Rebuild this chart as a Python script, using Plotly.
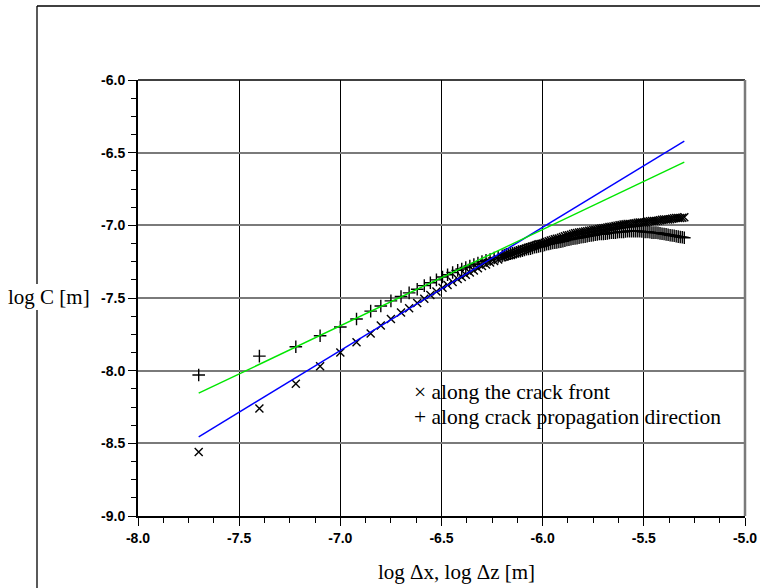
import plotly.graph_objects as go

# ---------------- data ----------------
log_dx = [-7.70, -7.40, -7.22, -7.10, -7.00, -6.92, -6.85, -6.80, -6.75, -6.70,
          -6.66, -6.62, -6.585, -6.555, -6.525, -6.495, -6.47, -6.445, -6.42, -6.40,
          -6.38, -6.36, -6.34, -6.32, -6.30, -6.28, -6.26, -6.24, -6.22,
          -6.20, -6.19, -6.18, -6.17, -6.16, -6.15, -6.14, -6.13, -6.12, -6.11,
          -6.10, -6.09, -6.08, -6.07, -6.06, -6.05, -6.04, -6.03, -6.02, -6.01,
          -6.00, -5.99, -5.98, -5.97, -5.96, -5.95, -5.94, -5.93, -5.92, -5.91,
          -5.90, -5.89, -5.88, -5.87, -5.86, -5.85, -5.84, -5.83, -5.82, -5.81,
          -5.80, -5.79, -5.78, -5.77, -5.76, -5.75, -5.74, -5.73, -5.72, -5.71,
          -5.70, -5.69, -5.68, -5.67, -5.66, -5.65, -5.64, -5.63, -5.62, -5.61,
          -5.60, -5.59, -5.58, -5.57, -5.56, -5.55, -5.54, -5.53, -5.52, -5.51,
          -5.50, -5.49, -5.48, -5.47, -5.46, -5.45, -5.44, -5.43, -5.42, -5.41,
          -5.40, -5.39, -5.38, -5.37, -5.36, -5.35, -5.34, -5.33, -5.32, -5.31,
          -5.30]

logC_front = [-8.56, -8.26, -8.09, -7.97, -7.875, -7.805, -7.745, -7.69, -7.645, -7.60,
              -7.57, -7.535, -7.505, -7.48, -7.455, -7.43, -7.41, -7.39, -7.37, -7.355,
              -7.34, -7.325, -7.31, -7.295, -7.28, -7.27, -7.255, -7.245, -7.235,
              -7.220, -7.215, -7.210, -7.205, -7.200, -7.195, -7.190, -7.185, -7.180, -7.175,
              -7.170, -7.165, -7.160, -7.155, -7.150, -7.145, -7.140, -7.135, -7.130, -7.128,
              -7.125, -7.120, -7.115, -7.110, -7.105, -7.100, -7.095, -7.092, -7.090, -7.085,
              -7.080, -7.075, -7.070, -7.068, -7.065, -7.060, -7.055, -7.052, -7.050, -7.048,
              -7.045, -7.042, -7.040, -7.038, -7.035, -7.032, -7.030, -7.028, -7.025, -7.022,
              -7.020, -7.018, -7.015, -7.012, -7.010, -7.008, -7.005, -7.002, -7.000, -6.998,
              -6.995, -6.992, -6.990, -6.990, -6.990, -6.988, -6.985, -6.982, -6.980, -6.980,
              -6.980, -6.978, -6.975, -6.972, -6.970, -6.970, -6.970, -6.968, -6.965, -6.962,
              -6.960, -6.960, -6.960, -6.958, -6.955, -6.952, -6.950, -6.950, -6.950, -6.948,
              -6.945]

logC_prop = [-8.03, -7.90, -7.835, -7.76, -7.70, -7.645, -7.59, -7.555, -7.52, -7.49,
             -7.465, -7.44, -7.415, -7.395, -7.375, -7.355, -7.34, -7.325, -7.31, -7.30,
             -7.29, -7.28, -7.27, -7.26, -7.25, -7.24, -7.235, -7.225, -7.22,
             -7.210, -7.205, -7.200, -7.198, -7.195, -7.192, -7.190, -7.185, -7.180, -7.178,
             -7.175, -7.170, -7.165, -7.162, -7.160, -7.155, -7.150, -7.148, -7.145, -7.142,
             -7.140, -7.135, -7.130, -7.128, -7.125, -7.122, -7.120, -7.118, -7.115, -7.112,
             -7.110, -7.105, -7.100, -7.098, -7.095, -7.092, -7.090, -7.088, -7.085, -7.082,
             -7.080, -7.078, -7.075, -7.072, -7.070, -7.068, -7.065, -7.062, -7.060, -7.060,
             -7.060, -7.058, -7.055, -7.052, -7.050, -7.050, -7.050, -7.048, -7.045, -7.045,
             -7.045, -7.042, -7.040, -7.040, -7.040, -7.040, -7.040, -7.040, -7.040, -7.042,
             -7.045, -7.045, -7.045, -7.048, -7.050, -7.050, -7.050, -7.052, -7.055, -7.058,
             -7.060, -7.062, -7.065, -7.068, -7.070, -7.072, -7.075, -7.078, -7.080, -7.082,
             -7.085]

fit_x = [-7.70, -5.30]
fit_front = [-8.455, -6.42]
fit_prop = [-8.155, -6.565]

x_tick_vals = [-8.0, -7.5, -7.0, -6.5, -6.0, -5.5, -5.0]
x_tick_text = ["-8.0", "-7.5", "-7.0", "-6.5", "-6.0", "-5.5", "-5.0"]
y_tick_vals = [-6.0, -6.5, -7.0, -7.5, -8.0, -8.5, -9.0]
y_tick_text = ["-6.0", "-6.5", "-7.0", "-7.5", "-8.0", "-8.5", "-9.0"]

legend_front = "× along the crack front"
legend_prop = "+ along crack propagation direction"
x_title = "log Δx, log Δz [m]"
y_title = "log C [m]"

# ---------------- layout geometry (pixels) ----------------
W, H = 760, 588
L, R, T, B = 138, 745, 80, 516


def px(x):
    return (x - L) / (R - L)


def py(y):
    return (B - y) / (B - T)


serif = "Liberation Serif, Times New Roman, serif"
sans = "Liberation Sans, Arial, sans-serif"

fig = go.Figure()
fig.add_trace(go.Scatter(x=log_dx, y=logC_front, mode="markers",
                         marker=dict(symbol="x-thin", size=8, color="black",
                                     line=dict(color="black", width=1.4)),
                         showlegend=False))
fig.add_trace(go.Scatter(x=log_dx, y=logC_prop, mode="markers",
                         marker=dict(symbol="cross-thin", size=9, color="black",
                                     line=dict(color="black", width=1.4)),
                         showlegend=False))
fig.add_trace(go.Scatter(x=fit_x, y=fit_front, mode="lines",
                         line=dict(color="#0000ff", width=1.4), showlegend=False))
fig.add_trace(go.Scatter(x=fit_x, y=fit_prop, mode="lines",
                         line=dict(color="#00e600", width=1.4), showlegend=False))

tickfont = dict(family=sans, size=14, color="black", weight="bold")

fig.update_xaxes(range=[-8, -5], tickvals=x_tick_vals, ticktext=x_tick_text,
                 automargin=False,
                 showline=True, linecolor="black", linewidth=2,
                 ticks="outside", ticklen=8, tickwidth=1, tickcolor="black",
                 zeroline=False, tickfont=tickfont,
                 minor=dict(dtick=0.125, tick0=-8, ticks="outside", ticklen=5,
                            tickwidth=1, tickcolor="black", showgrid=False),
                 showgrid=True, gridcolor="black", gridwidth=1)
fig.update_yaxes(range=[-9, -6], tickvals=y_tick_vals, ticktext=y_tick_text,
                 automargin=False,
                 showline=True, linecolor="black", linewidth=2,
                 ticks="outside", ticklen=8, tickwidth=1, tickcolor="black",
                 zeroline=False, tickfont=tickfont,
                 minor=dict(dtick=0.125, tick0=-9, ticks="outside", ticklen=5,
                            tickwidth=1, tickcolor="black", showgrid=False),
                 showgrid=True, gridcolor="#7a7a7a", gridwidth=1.6)

shapes = [
    dict(type="line", xref="paper", yref="paper", x0=0, x1=1, y0=1, y1=1,
         line=dict(color="black", width=1.5)),
    dict(type="line", xref="paper", yref="paper", x0=1, x1=1, y0=0, y1=1,
         line=dict(color="#7a7a7a", width=2.5)),
    dict(type="line", xref="paper", yref="paper", x0=px(37), x1=px(W + 5),
         y0=py(6), y1=py(6), line=dict(color="black", width=1.3)),
    dict(type="line", xref="paper", yref="paper", x0=px(37), x1=px(37),
         y0=py(6), y1=py(284), line=dict(color="black", width=1.3)),
    dict(type="line", xref="paper", yref="paper", x0=px(37), x1=px(37),
         y0=py(310), y1=py(H + 5), line=dict(color="black", width=1.3)),
]

annotations = [
    dict(text=legend_front, xref="paper", yref="paper", x=px(412), y=py(392),
         xanchor="left", yanchor="middle", showarrow=False,
         font=dict(family=serif, size=21.5, color="black")),
    dict(text=legend_prop, xref="paper", yref="paper", x=px(412), y=py(417),
         xanchor="left", yanchor="middle", showarrow=False,
         font=dict(family=serif, size=21.5, color="black")),
    dict(text=x_title, xref="paper", yref="paper", x=px(456), y=py(572),
         xanchor="center", yanchor="middle", showarrow=False,
         font=dict(family=serif, size=21, color="black")),
    dict(text=y_title, xref="paper", yref="paper", x=px(49), y=py(297),
         xanchor="center", yanchor="middle", showarrow=False,
         font=dict(family=serif, size=21, color="black")),
]

fig.update_layout(
    width=W, height=H,
    margin=dict(l=L, r=W - R, t=T, b=H - B, pad=0, autoexpand=False),
    plot_bgcolor="white", paper_bgcolor="white",
    shapes=shapes, annotations=annotations, showlegend=False,
)

fig.write_html("out.html", config={"displayModeBar": False},
               post_script="document.body.style.margin='0px';document.body.style.padding='0px';")
